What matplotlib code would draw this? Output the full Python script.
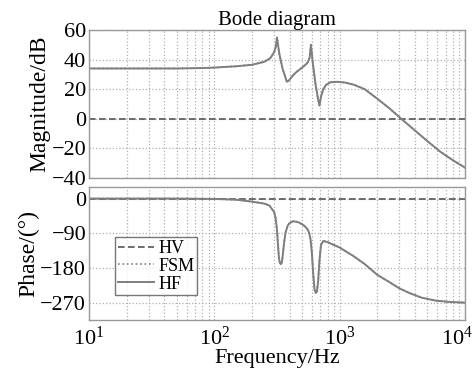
import numpy as np
import matplotlib.pyplot as plt
import matplotlib.transforms as mtransforms

plt.rcParams['font.family'] = ['Liberation Serif', 'DejaVu Serif']

# values (frequency in Hz)
freq_mag = [10, 50, 80, 100, 150, 200, 250, 280, 300, 310, 316, 330, 350, 379, 395, 420,
            450, 500, 550, 575, 590, 610, 640, 670, 690, 710, 740, 780, 850, 950, 1100,
            1300, 1585, 2000, 2500, 3100, 4000, 5000, 6300, 8000, 10000]
hf_mag = [34, 34, 34.3, 34.6, 35.5, 36.5, 38.5, 41, 45, 49, 55, 44, 34, 25, 26, 29,
          31.5, 34.5, 37.5, 41, 50, 38, 24, 14, 9, 15, 20, 23, 24.8, 25, 24.5,
          23, 20, 13.5, 7, 0, -8, -15, -22, -28, -33]

freq_ph = [10, 50, 100, 150, 200, 250, 275, 300, 308, 316, 322, 328, 334, 340, 346, 352,
           360, 370, 385, 400, 425, 450, 480, 520, 550, 570, 585, 600, 615, 630, 645,
           660, 675, 690, 710, 740, 800, 1000, 1300, 1585, 2000, 2500, 3000, 3600,
           4500, 5900, 7500, 10000]
hf_ph = [0, 0, -1, -3, -8, -13, -18, -35, -50, -80, -120, -155, -168, -170, -165, -145,
         -115, -88, -70, -63, -59, -60, -63, -70, -78, -88, -105, -140, -195, -235, -245,
         -240, -210, -160, -120, -110, -113, -127, -150, -170, -198, -217, -233, -245,
         -257, -265, -268, -270]

hv_mag = [0] * len(freq_mag)
hv_ph = [0] * len(freq_ph)

line_col = '#7f7f7f'
grid_col = '#b0b0b0'

fig = plt.figure(figsize=(4.76, 3.73), dpi=100)
ax1 = fig.add_axes([89 / 476, 1 - 178 / 373, 376 / 476, 148 / 373])
ax2 = fig.add_axes([89 / 476, 1 - 320 / 373, 376 / 476, 133 / 373])

ax1.plot(freq_mag, hv_mag, color='#555555', ls=(0, (4, 2)), lw=1.2)
ax1.plot(freq_mag, hf_mag, color=line_col, ls=':', lw=1.2)
ax1.plot(freq_mag, hf_mag, color=line_col, ls='-', lw=1.4)

ax2.plot(freq_ph, hv_ph, color='#555555', ls=(0, (4, 2)), lw=1.2, label='HV')
ax2.plot(freq_ph, hf_ph, color=line_col, ls=':', lw=1.2, label='FSM')
ax2.plot(freq_ph, hf_ph, color=line_col, ls='-', lw=1.4, label='HF')

for ax in (ax1, ax2):
    ax.set_xscale('log')
    ax.set_xlim(10, 10000)
    ax.grid(True, which='both', ls=':', color=grid_col, lw=0.9)
    ax.tick_params(which='both', length=0, labelsize=16)
    for s in ax.spines.values():
        s.set_color('#999999')
        s.set_linewidth(1.0)

ax1.set_ylim(-40, 60)
ax1.set_yticks([-40, -20, 0, 20, 40, 60])
ax1.set_yticklabels(['\u221240', '\u221220', '0', '20', '40', '60'])
ax1.tick_params(axis='x', which='both', labelbottom=False)
ax1.tick_params(axis='y', pad=2)
ax1.set_ylabel('Magnitude/dB', fontsize=17, labelpad=1)
ax1.set_title('Bode diagram', fontsize=15, pad=2)

ax2.set_ylim(-315, 30)
ax2.set_yticks([-270, -180, -90, 0])
ax2.set_yticklabels(['\u2212270', '\u2212180', '\u221290', '0'])
ax2.set_xticks([10, 100, 1000, 10000])
ax2.set_xticklabels(['$\\mathregular{10^1}$', '$\\mathregular{10^2}$',
                     '$\\mathregular{10^3}$', '$\\mathregular{10^4}$'])
ax2.tick_params(axis='x', pad=5)
ax2.tick_params(axis='y', pad=2)
ax2.set_ylabel('Phase/(\u00b0)', fontsize=17, labelpad=1)
ax2.set_xlabel('Frequency/Hz', fontsize=16, labelpad=-1)

# keep the last decade label inside the figure
last = ax2.get_xticklabels()[-1]
last.set_transform(last.get_transform() +
                   mtransforms.ScaledTranslation(-6 / 72, 0, fig.dpi_scale_trans))

leg = ax2.legend(loc='lower left', bbox_to_anchor=(0.07, 0.185), fontsize=13,
                 frameon=True, fancybox=False, handlelength=2.0, borderpad=0.15,
                 labelspacing=0.05, handletextpad=0.25, borderaxespad=0)
leg.get_frame().set_edgecolor('#555555')
leg.get_frame().set_linewidth(1.0)

fig.savefig('out.png', dpi=100)
